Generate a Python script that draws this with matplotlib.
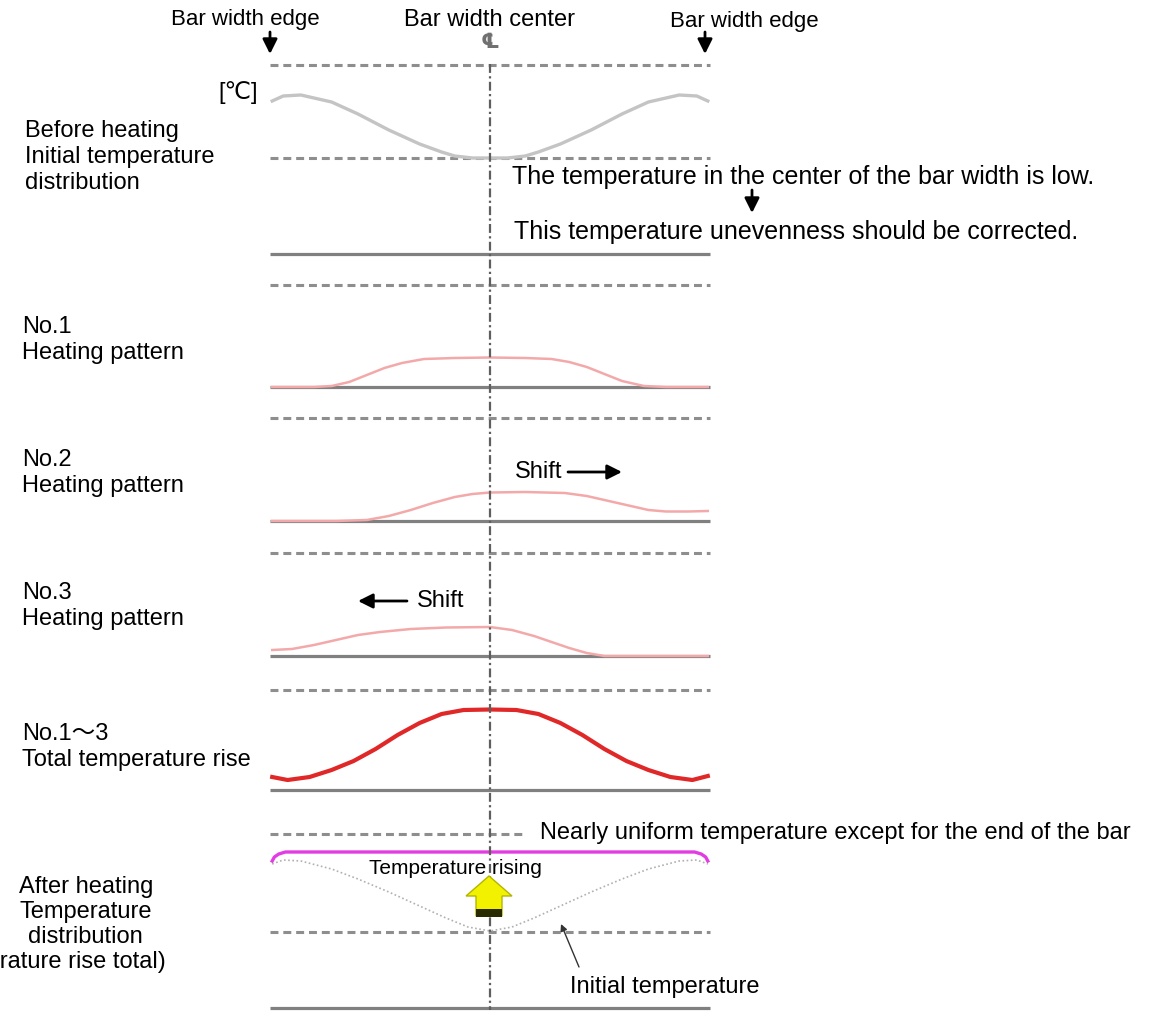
import matplotlib.pyplot as plt
from matplotlib.patches import FancyArrow, Rectangle

plt.rcParams['font.family'] = ['Liberation Sans', 'DejaVu Sans', 'Noto Sans CJK JP']

# Curve data: position across bar width [%] and height above panel baseline [px-like units]
pos_initial = [0.5, 3, 7, 14, 20, 27, 34, 39, 42, 46, 50, 54, 58, 61, 66, 73, 80, 86, 93, 97, 99.5]
temp_initial = [153, 158, 159, 152, 140, 124, 110, 102, 98, 96, 96, 96, 98, 102, 110, 124, 140, 152, 159, 158, 153]

pos_no1 = [0.5, 10, 14, 18, 22, 26, 30, 35, 42, 50, 58, 64, 68, 72, 76, 80, 85, 90, 99.5]
rise_no1 = [0, 0, 1, 5, 12, 19, 24, 28, 29, 29.5, 29, 28, 25, 20, 13, 6, 1, 0, 0]

pos_no2 = [0.5, 15, 22, 27, 32, 37, 42, 46, 50, 58, 67, 72, 77, 82, 86, 90, 95, 99.5]
rise_no2 = [0, 0, 1, 5, 11, 18, 24, 27, 28.5, 29, 28, 25, 20, 15, 11, 9.5, 9.5, 10]

pos_no3 = [0.5, 5, 10, 15, 20, 25, 32, 40, 50, 55, 60, 64, 68, 72, 76, 85, 99.5]
rise_no3 = [6, 7, 11, 16, 21, 24, 27, 28.5, 29, 26, 20, 14, 8, 3, 0, 0, 0]

pos_total = [0.5, 4, 9, 14, 19, 24, 29, 34, 39, 44, 50, 56, 61, 66, 71, 76, 81, 86, 91, 96, 99.5]
rise_total = [13, 10, 13, 20, 29, 41, 55, 67, 76, 80, 80.5, 80, 76, 67, 55, 41, 29, 20, 13, 10, 14]

pos_after = [0.5, 1, 2, 3.5, 10, 50, 90, 96.5, 98, 99, 99.5]
temp_after = [147, 151, 154, 156, 156, 156, 156, 156, 154, 151, 147]

pos_before = [0.5, 3, 7, 14, 20, 27, 34, 40, 45, 50, 55, 60, 66, 73, 80, 86, 93, 97, 99.5]
temp_before = [144, 148, 147, 139, 129, 116, 102, 90, 81, 77, 81, 90, 102, 116, 129, 139, 147, 148, 144]

# Layout in pixels
W, H = 1168, 1028
bar_left, bar_right, bar_center = 270, 710, 490
fig = plt.figure(figsize=(W / 100, H / 100), dpi=100)

dash_kw = dict(color='#8e8e8e', lw=2.2, dashes=(2.6, 1.6), clip_on=False)
base_kw = dict(color='#808080', lw=2.3, solid_capstyle='butt', clip_on=False)


def panel(top, base, mid=None, top_xmax=1.0):
    ax = fig.add_axes([bar_left / W, 1 - base / H, (bar_right - bar_left) / W, (base - top) / H])
    ax.set_xlim(0, 100)
    ax.set_ylim(0, base - top)
    ax.axis('off')
    ax.patch.set_alpha(0)
    ax.axhline(base - top, xmax=top_xmax, **dash_kw)
    if mid is not None:
        ax.axhline(base - mid, **dash_kw)
    ax.axhline(0, **base_kw)
    return ax


ax1 = panel(65, 254, mid=158)
ax1.plot(pos_initial, temp_initial, color='#c4c4c4', lw=2.4, clip_on=False,
         solid_joinstyle='round')

ax2 = panel(285, 387)
ax2.plot(pos_no1, rise_no1, color='#f3a9a9', lw=1.8, clip_on=False)

ax3 = panel(418, 521)
ax3.plot(pos_no2, rise_no2, color='#f3a9a9', lw=1.8, clip_on=False)

ax4 = panel(553, 656)
ax4.plot(pos_no3, rise_no3, color='#f3a9a9', lw=1.8, clip_on=False)

ax5 = panel(690, 790)
ax5.plot(pos_total, rise_total, color='#e02828', lw=3.0, clip_on=False,
         solid_joinstyle='round')

ax6 = panel(834, 1008, mid=932, top_xmax=(525 - bar_left) / (bar_right - bar_left))
ax6.plot(pos_before, temp_before, color='#b0b0b0', lw=1.2, ls=(0, (1, 1.5)), clip_on=False)
ax6.plot(pos_after, temp_after, color='#e23de2', lw=2.4, clip_on=False,
         solid_joinstyle='round')

# Overlay for annotations (pixel coordinates)
ov = fig.add_axes([0, 0, 1, 1])
ov.set_xlim(0, W)
ov.set_ylim(H, 0)
ov.axis('off')
ov.patch.set_alpha(0)

ov.plot([bar_center, bar_center], [64, 1010], color='#5e5e5e', lw=1.6,
        ls=(0, (4, 1.5, 1, 1.5)))

fs = 17
txt = dict(fontsize=fs, color='black', va='center')
ov.text(245, 20, 'Bar width edge', ha='center', fontsize=16, color='black', va='center')
ov.text(490, 20, 'Bar width center', ha='center', **txt)
ov.text(744, 22, 'Bar width edge', ha='center', fontsize=16, color='black', va='center')
ov.text(490, 43, '℄', ha='center', fontsize=15, color='#707070', va='center', fontweight='bold')

arrow = dict(arrowstyle='-|>', color='black', lw=2, mutation_scale=22, shrinkA=0, shrinkB=0)
ov.annotate('', xy=(270, 54), xytext=(270, 32), arrowprops=arrow)
ov.annotate('', xy=(705, 54), xytext=(705, 32), arrowprops=arrow)

ov.text(258, 93, '[℃]', ha='right', **txt)

ov.text(25, 157, 'Before heating\nInitial temperature\ndistribution', ha='left',
        linespacing=1.25, **txt)
ov.text(512, 177, 'The temperature in the center of the bar width is low.', ha='left',
        fontsize=18, color='black', va='center')
ov.annotate('', xy=(752, 213), xytext=(752, 190), arrowprops=arrow)
ov.text(514, 232, 'This temperature unevenness should be corrected.', ha='left',
        fontsize=18, color='black', va='center')

ov.text(22, 340, 'No.1\nHeating pattern', ha='left', linespacing=1.25, **txt)
ov.text(22, 473, 'No.2\nHeating pattern', ha='left', linespacing=1.25, **txt)
ov.text(515, 472, 'Shift', ha='left', **txt)
ov.annotate('', xy=(622, 472), xytext=(568, 472), arrowprops=arrow)
ov.text(22, 606, 'No.3\nHeating pattern', ha='left', linespacing=1.25, **txt)
ov.text(417, 601, 'Shift', ha='left', **txt)
ov.annotate('', xy=(358, 601), xytext=(407, 601), arrowprops=arrow)
ov.text(22, 747, 'No.1～3\nTotal temperature rise', ha='left', linespacing=1.25, **txt)

ov.text(540, 833, 'Nearly uniform temperature except for the end of the bar', ha='left', **txt)
ov.text(455, 868, 'Temperature rising', ha='center', fontsize=15, va='center')
ov.add_patch(FancyArrow(489, 916, 0, -40, width=26, head_width=46, head_length=20,
                        length_includes_head=True, facecolor='#f2f200', edgecolor='#b5b500',
                        lw=1, zorder=5))
ov.add_patch(Rectangle((476, 909), 26, 8, facecolor='#2a2a00', edgecolor='none', zorder=6))

ov.text(86, 887, 'After heating', ha='center', **txt)
ov.text(86, 912, 'Temperature', ha='center', **txt)
ov.text(85, 937, 'distribution', ha='center', **txt)
ov.text(166, 962, '(Temperature rise total)', ha='right', **txt)

ov.annotate('', xy=(561, 924), xytext=(579, 967),
            arrowprops=dict(arrowstyle='-|>', color='#333333', lw=1, mutation_scale=10,
                            shrinkA=0, shrinkB=0))
ov.text(570, 987, 'Initial temperature', ha='left', **txt)

fig.savefig('out.png', dpi=100)
